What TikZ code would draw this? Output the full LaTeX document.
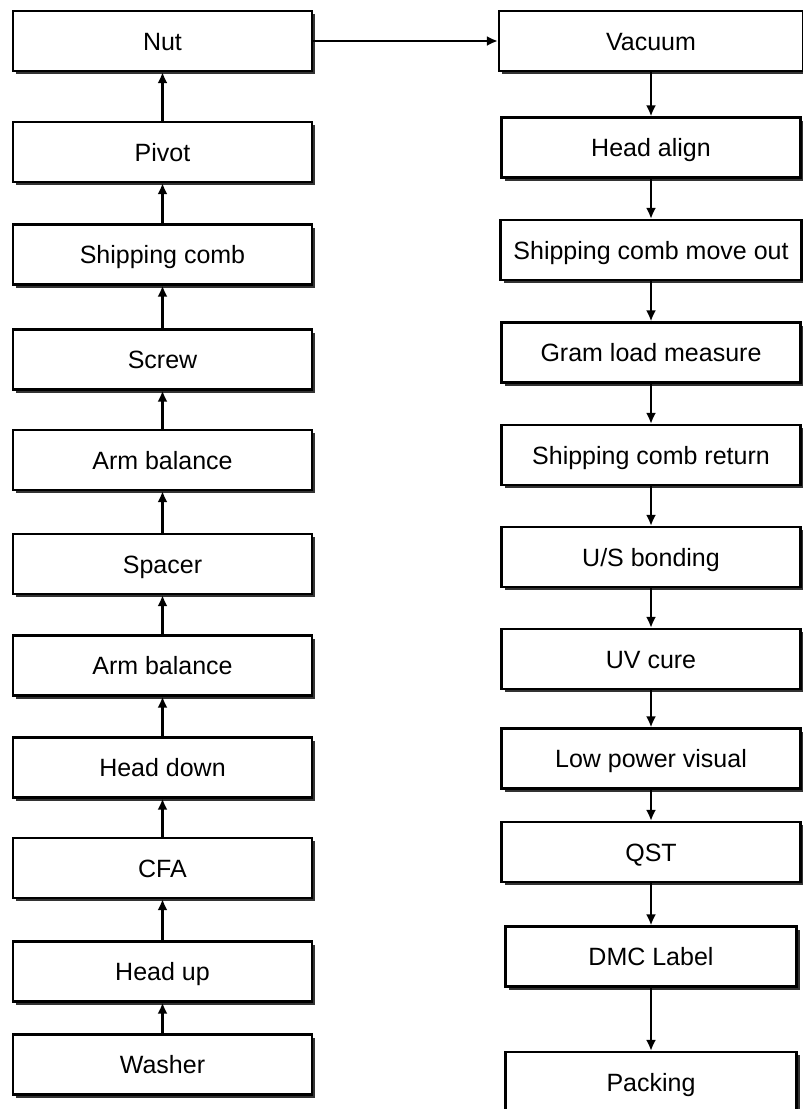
\documentclass[tikz,border=0pt]{standalone}
\usepackage{fontspec}
\setmainfont{Liberation Sans}
\usetikzlibrary{arrows.meta, shadows}

\begin{document}
\begin{tikzpicture}[x=1pt, y=-1pt,
    stage/.style={draw, line width=2.2pt, fill=white, minimum width=299pt, minimum height=60pt,
        inner sep=0pt, text height=18pt, text depth=0pt, font=\fontsize{25}{30}\selectfont,
        general shadow={fill=black!80, shadow xshift=3pt, shadow yshift=-3pt}},
    flow/.style={line width=2.2pt, -{Latex[length=11pt, width=10pt]}}]
    \useasboundingbox (0,0) rectangle (803,1109);

    %% left column
    \node[stage] (nut)     at (162.5,41)     {Nut};
    \node[stage] (pivot)   at (162.5,152)    {Pivot};
    \node[stage] (comb)    at (162.5,254.5)  {Shipping comb};
    \node[stage] (screw)   at (162.5,359.5)  {Screw};
    \node[stage] (armtop)  at (162.5,460)    {Arm balance};
    \node[stage] (spacer)  at (162.5,564)    {Spacer};
    \node[stage] (armlow)  at (162.5,665.5)  {Arm balance};
    \node[stage] (hdown)   at (162.5,767.5)  {Head down};
    \node[stage] (cfa)     at (162.5,868)    {CFA};
    \node[stage] (hup)     at (162.5,971.5)  {Head up};
    \node[stage] (washer)  at (162.5,1064.5) {Washer};

    %% right column
    \node[stage, minimum width=304pt] (vacuum) at (651,41) {Vacuum};
    \node[stage] (align)    at (651,147.5) {Head align};
    \node[stage, minimum width=301pt] (combout) at (651,250) {Shipping comb move out};
    \node[stage] (gram)     at (651,352.5) {Gram load measure};
    \node[stage] (combret)  at (651,455)   {Shipping comb return};
    \node[stage] (usbond)   at (651,557)   {U/S bonding};
    \node[stage] (uvcure)   at (651,659)   {UV cure};
    \node[stage] (lowpow)   at (651,758.5) {Low power visual};
    \node[stage] (qst)      at (651,852)   {QST};
    \node[stage, minimum width=291pt] (dmc)  at (651,956.5) {DMC Label};
    \node[stage, minimum width=291pt] (pack) at (651,1082)  {Packing};

    \draw[flow] (washer) -- (hup);
    \draw[flow] (hup) -- (cfa);
    \draw[flow] (cfa) -- (hdown);
    \draw[flow] (hdown) -- (armlow);
    \draw[flow] (armlow) -- (spacer);
    \draw[flow] (spacer) -- (armtop);
    \draw[flow] (armtop) -- (screw);
    \draw[flow] (screw) -- (comb);
    \draw[flow] (comb) -- (pivot);
    \draw[flow] (pivot) -- (nut);
    \draw[flow] (nut) -- (vacuum);
    \draw[flow] (vacuum) -- (align);
    \draw[flow] (align) -- (combout);
    \draw[flow] (combout) -- (gram);
    \draw[flow] (gram) -- (combret);
    \draw[flow] (combret) -- (usbond);
    \draw[flow] (usbond) -- (uvcure);
    \draw[flow] (uvcure) -- (lowpow);
    \draw[flow] (lowpow) -- (qst);
    \draw[flow] (qst) -- (dmc);
    \draw[flow] (dmc) -- (pack);
\end{tikzpicture}
\end{document}
